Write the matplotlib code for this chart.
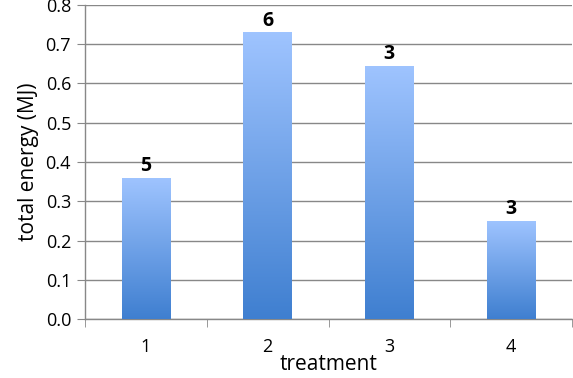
import matplotlib.pyplot as plt
import numpy as np

treatments = ["1", "2", "3", "4"]
energy = [0.36, 0.73, 0.645, 0.25]
counts = ["5", "6", "3", "3"]

plt.rcParams['font.family'] = ['Open Sans', 'DejaVu Sans']

fig = plt.figure(figsize=(5.73, 3.78), dpi=100)
ax = fig.add_axes([85 / 573, 1 - 319 / 378, 487 / 573, 314 / 378])

x = np.arange(len(treatments))
bars = ax.bar(x, energy, width=0.4, color='none', zorder=3)

# vertical gradient inside each bar
grad = np.linspace(0, 1, 256).reshape(-1, 1)
cmap = plt.matplotlib.colors.LinearSegmentedColormap.from_list(
    'bar', ['#3f7fd0', '#9fc4ff'])
for b in bars:
    bx, by = b.get_x(), b.get_y()
    w, h = b.get_width(), b.get_height()
    im = ax.imshow(grad, cmap=cmap, origin='lower', aspect='auto',
                   extent=[bx, bx + w, by, by + h], zorder=3)
    im.set_clip_path(b)

for xi, v, c in zip(x, energy, counts):
    ax.text(xi, v + 0.004, c, ha='center', va='bottom',
            fontsize=14, fontweight='bold', zorder=4)

ax.set_xlim(-0.5, len(treatments) - 0.5)
ax.set_ylim(0, 0.8)
ax.set_yticks(np.arange(0, 0.81, 0.1))
ax.set_yticklabels([f"{t:.1f}" for t in np.arange(0, 0.81, 0.1)])
ax.set_xticks(x)
ax.set_xticklabels(treatments)
ax.set_xticks(np.arange(-0.5, len(treatments)), minor=True)
ax.tick_params(axis='x', which='major', length=0, labelsize=13, pad=14)
ax.tick_params(axis='x', which='minor', length=6, color='#888888')
ax.tick_params(axis='y', length=6, color='#888888', labelsize=13, pad=4)

ax.grid(axis='y', color='#888888', linewidth=1, zorder=0)
for s in ['top', 'right']:
    ax.spines[s].set_visible(False)
for s in ['left', 'bottom']:
    ax.spines[s].set_color('#888888')
    ax.spines[s].set_linewidth(1)

ax.set_xlabel("treatment", fontsize=15, labelpad=-2)
ax.set_ylabel("total energy (MJ)", fontsize=15, labelpad=5)

fig.savefig("out.png", dpi=100)
